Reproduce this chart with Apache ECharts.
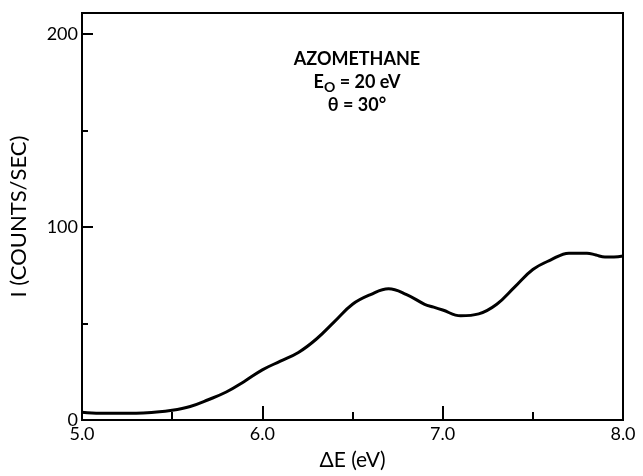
<!DOCTYPE html>
<html>
<head>
<meta charset="utf-8">
<script src="https://cdn.jsdelivr.net/npm/echarts@6/dist/echarts.min.js"></script>
<style>
  html, body { margin: 0; padding: 0; background: #fff; }
  #chart { width: 643px; height: 476px; }
</style>
</head>
<body>
<div id="chart"></div>
<script>
// 能量损失 (eV)
const energy = [5.0, 5.1, 5.2, 5.3, 5.4, 5.5, 5.6, 5.7, 5.8, 5.9,
                6.0, 6.1, 6.2, 6.3, 6.4, 6.5, 6.6, 6.7, 6.8, 6.9,
                6.95, 7.0, 7.1, 7.2, 7.3, 7.4, 7.5, 7.6, 7.7, 7.8, 7.85, 7.9, 7.95, 8.0]
// 强度 (counts/sec)
const counts = [4, 3.5, 3.5, 3.5, 4, 5, 7, 10.5, 14.5, 20,
                26, 30.5, 35, 42, 51, 60, 65, 68, 65, 60,
                58.5, 57, 54, 55, 60, 69, 78, 83, 86.5, 86.5, 85.5, 84.5, 84.5, 85]

const xLabelValues = [5, 6, 7, 8]
const xMajorTicks = [6, 7]
const xMinorTicks = [5.5, 6.5, 7.5]
const yLabelValues = [0, 100, 200]
const yMajorTicks = [100, 200]
const yMinorTicks = [50, 150]

const annotation = ['AZOMETHANE', 'E{sub|O} = 20 eV', 'θ = 30°']

const font = 'Lato'

let points = []
energy.forEach((e, i) => {
    points.push([e, counts[i]])
})

var myChart = echarts.init(document.getElementById('chart'))

function xAxisOf(ticks, len, showLabel) {
    return {
        type: 'value',
        min: 5,
        max: 8,
        interval: 0.5,
        position: 'bottom',
        axisLine: { show: showLabel, lineStyle: { color: '#000', width: 2 } },
        axisTick: {
            show: true,
            inside: true,
            length: len,
            customValues: ticks,
            lineStyle: { color: '#000', width: 2 }
        },
        axisLabel: {
            show: showLabel,
            customValues: xLabelValues,
            formatter: v => v.toFixed(1),
            color: '#000',
            fontFamily: font,
            fontSize: 18,
            margin: 5
        },
        splitLine: { show: false },
        name: showLabel ? 'ΔE (eV)' : '',
        nameLocation: 'middle',
        nameGap: 30,
        nameTextStyle: { color: '#000', fontFamily: font, fontSize: 21 }
    }
}

function yAxisOf(ticks, len, showLabel) {
    return {
        type: 'value',
        min: 0,
        max: 211,
        position: 'left',
        axisLine: { show: showLabel, lineStyle: { color: '#000', width: 2 } },
        axisTick: {
            show: true,
            inside: true,
            length: len,
            customValues: ticks,
            lineStyle: { color: '#000', width: 2 }
        },
        axisLabel: {
            show: showLabel,
            customValues: yLabelValues,
            color: '#000',
            fontFamily: font,
            fontSize: 18,
            margin: 4
        },
        splitLine: { show: false },
        name: showLabel ? 'I (COUNTS/SEC)' : '',
        nameLocation: 'middle',
        nameGap: 52,
        nameTextStyle: { color: '#000', fontFamily: font, fontSize: 22 }
    }
}

var option = {
    backgroundColor: '#fff',
    animation: false,
    grid: {
        left: 82,
        right: 20,
        top: 13,
        bottom: 53,
        show: true,
        borderColor: '#000',
        borderWidth: 2,
        backgroundColor: 'transparent'
    },
    xAxis: [
        xAxisOf(xMajorTicks, 14, true),
        xAxisOf(xMinorTicks, 8, false)
    ],
    yAxis: [
        yAxisOf(yMajorTicks, 11, true),
        yAxisOf(yMinorTicks, 6, false)
    ],
    title: {
        text: annotation.join('\n'),
        left: 352,
        top: 43,
        textAlign: 'center',
        textStyle: {
            color: '#000',
            fontFamily: font,
            fontSize: 18,
            fontWeight: 'bold',
            lineHeight: 23,
            rich: {
                sub: { fontSize: 14, fontFamily: font, fontWeight: 'bold', verticalAlign: 'bottom', padding: [7, 0, 0, 0] }
            }
        }
    },
    series: [
        {
            type: 'line',
            data: points,
            smooth: 0.4,
            symbol: 'none',
            lineStyle: { color: '#000', width: 3 }
        }
    ]
}

myChart.setOption(option)
</script>
</body>
</html>
